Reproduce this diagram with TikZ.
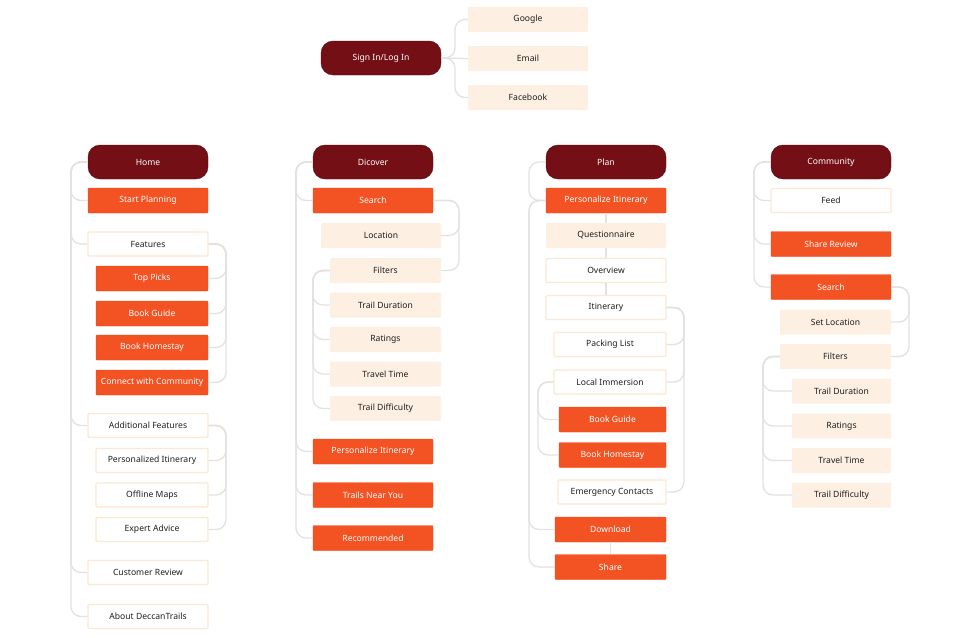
\documentclass[tikz,border=0pt]{standalone}
\usepackage{fontspec}
\setmainfont{Noto Sans}
\definecolor{dred}{HTML}{730F15}
\definecolor{orng}{HTML}{F35223}
\definecolor{peach}{HTML}{FDF0E3}
\definecolor{pborder}{HTML}{FCE8D4}
\definecolor{lline}{HTML}{E2E2E2}
\definecolor{txt}{HTML}{1E1E1E}
\begin{document}
\begin{tikzpicture}[x=1pt,y=-1pt,
  base/.style={minimum height=25pt, inner sep=0pt, font=\fontsize{8.6}{10}\selectfont, rounded corners=1pt},
  head/.style={base, fill=dred, text=white, minimum width=120pt, minimum height=34pt, rounded corners=12pt, draw=dred!80!black, line width=0.4pt},
  obox/.style={base, fill=orng, text=white, draw=orng!85!red, line width=0.4pt},
  pbox/.style={base, fill=peach, text=txt},
  wbox/.style={base, fill=white, draw=pborder, line width=1.3pt, text=txt},
  w120/.style={minimum width=120pt},
  conn/.style={draw=lline, line width=1.3pt, rounded corners=10pt},
]
\fill[white] (0,0) rectangle (979,637);
\useasboundingbox (0,0) rectangle (979,637);

% Sign in
\node[head] (sign) at (381,58) {Sign In/Log In};
\node[pbox,w120] (google) at (528,19.5) {Google};
\node[pbox,w120] (email) at (528,58.5) {Email};
\node[pbox,w120] (fb) at (528,97.5) {Facebook};
\coordinate (sx) at (455,0);
\draw[conn] (sign.east) -- (sx|-sign.east) -- (sx|-google.west) -- (google.west);
\draw[conn] (sign.east) -- (sx|-sign.east) -- (sx|-fb.west) -- (fb.west);
\draw[conn] (sign.east) -- (email.west);

% Home column
\node[head] (home) at (148,162) {Home};
\node[obox,w120] (hsp) at (148,200.5) {Start Planning};
\node[wbox,w120, minimum height=24pt] (hfeat) at (148,244) {Features};
\node[obox,minimum width=112pt] (htp) at (152,278.5) {Top Picks};
\node[obox,minimum width=112pt] (hbg) at (152,313.5) {Book Guide};
\node[obox,minimum width=112pt] (hbh) at (152,347.5) {Book Homestay};
\node[obox,minimum width=112pt] (hcc) at (152,382.5) {Connect with Community};
\node[wbox,w120, minimum height=24pt] (haf) at (148,425.5) {Additional Features};
\node[wbox,minimum width=112pt, minimum height=24pt] (hpi) at (152,460.5) {Personalized Itinerary};
\node[wbox,minimum width=112pt, minimum height=24pt] (hom) at (152,495) {Offline Maps};
\node[wbox,minimum width=112pt, minimum height=24pt] (hea) at (152,529.5) {Expert Advice};
\node[wbox,w120, minimum height=24pt] (hcr) at (148,572.5) {Customer Review};
\node[wbox,w120, minimum height=24pt] (hab) at (148,616.5) {About DeccanTrails};
\coordinate (ht) at (71,0);
\foreach \c in {hsp,hfeat,haf,hcr,hab}
  \draw[conn] (home.west) -- (ht|-home.west) -- (ht|-\c.west) -- (\c.west);
\coordinate (hb) at (226,0);
\foreach \c in {htp,hbg,hbh,hcc}
  \draw[conn] (hfeat.east) -- (hb|-hfeat.east) -- (hb|-\c.east) -- (\c.east);
\foreach \c in {hpi,hom,hea}
  \draw[conn] (haf.east) -- (hb|-haf.east) -- (hb|-\c.east) -- (\c.east);

% Discover column
\node[head] (disc) at (373,162) {Dicover};
\node[obox,w120] (dse) at (373,200.5) {Search};
\node[pbox,w120] (dlo) at (381,235.5) {Location};
\node[pbox,minimum width=111pt] (dfi) at (385.5,270.5) {Filters};
\node[pbox,minimum width=111pt] (dtd) at (385.5,305) {Trail Duration};
\node[pbox,minimum width=111pt] (dra) at (385.5,339.5) {Ratings};
\node[pbox,minimum width=111pt] (dtt) at (385.5,374) {Travel Time};
\node[pbox,minimum width=111pt] (dtf) at (385.5,408.5) {Trail Difficulty};
\node[obox,w120] (dpi) at (373,451.5) {Personalize Itinerary};
\node[obox,w120] (dtn) at (373,495) {Trails Near You};
\node[obox,w120] (dre) at (373,538) {Recommended};
\coordinate (dt) at (296,0);
\foreach \c in {dse,dpi,dtn,dre}
  \draw[conn] (disc.west) -- (dt|-disc.west) -- (dt|-\c.west) -- (\c.west);
\coordinate (db) at (459,0);
\foreach \c in {dlo,dfi}
  \draw[conn] (dse.east) -- (db|-dse.east) -- (db|-\c.east) -- (\c.east);
\coordinate (df) at (313,0);
\foreach \c in {dtd,dra,dtt,dtf}
  \draw[conn] (dfi.west) -- (df|-dfi.west) -- (df|-\c.west) -- (\c.west);

% Plan column
\node[head] (plan) at (606,162) {Plan};
\node[obox,w120] (ppi) at (606,200.5) {Personalize Itinerary};
\node[pbox,w120] (pqu) at (606,235.5) {Questionnaire};
\node[wbox,w120,minimum height=24pt] (pov) at (606,270.5) {Overview};
\node[wbox,w120,minimum height=24pt] (pit) at (606,307.5) {Itinerary};
\node[wbox,minimum width=112pt,minimum height=24pt] (ppl) at (610,344.5) {Packing List};
\node[wbox,minimum width=112pt,minimum height=24pt] (pli) at (610,382) {Local Immersion};
\node[obox,minimum width=107pt] (pbg) at (612.5,419.5) {Book Guide};
\node[obox,minimum width=107pt] (pbh) at (612.5,455) {Book Homestay};
\node[wbox,minimum width=108pt,minimum height=24pt] (pec) at (612,492) {Emergency Contacts};
\node[obox,minimum width=111pt] (pdl) at (610.5,529.5) {Download};
\node[obox,minimum width=111pt] (psh) at (610.5,567) {Share};
\coordinate (pt) at (529,0);
\draw[conn] (plan.west) -- (pt|-plan.west) -- (pt|-ppi.west) -- (ppi.west);
\foreach \c in {pdl,psh}
  \draw[conn] (ppi.west) -- (pt|-ppi.west) -- (pt|-\c.west) -- (\c.west);
\draw[conn] (ppi.south) -- (pqu.north);
\draw[conn] (pqu.south) -- (pov.north);
\draw[conn] (pov.south) -- (pit.north);
\draw[conn] (pdl.south) -- (psh.north);
\coordinate (pb) at (684,0);
\foreach \c in {ppl,pli,pec}
  \draw[conn] (pit.east) -- (pb|-pit.east) -- (pb|-\c.east) -- (\c.east);
\coordinate (pl) at (538,0);
\foreach \c in {pbg,pbh}
  \draw[conn] (pli.west) -- (pl|-pli.west) -- (pl|-\c.west) -- (\c.west);

% Community column
\node[head] (comm) at (831,162) {Community};
\node[wbox,w120,minimum height=24pt] (cfe) at (831,200.5) {Feed};
\node[obox,w120] (csr) at (831,244) {Share Review};
\node[obox,w120] (cse) at (831,287) {Search};
\node[pbox,minimum width=111pt] (csl) at (835.5,322) {Set Location};
\node[pbox,minimum width=111pt] (cfi) at (835.5,356.5) {Filters};
\node[pbox,minimum width=99pt] (ctd) at (841.5,391) {Trail Duration};
\node[pbox,minimum width=99pt] (cra) at (841.5,426) {Ratings};
\node[pbox,minimum width=99pt] (ctt) at (841.5,460.5) {Travel Time};
\node[pbox,minimum width=99pt] (ctf) at (841.5,495) {Trail Difficulty};
\coordinate (ct) at (754,0);
\foreach \c in {cfe,csr,cse}
  \draw[conn] (comm.west) -- (ct|-comm.west) -- (ct|-\c.west) -- (\c.west);
\coordinate (cb) at (909,0);
\foreach \c in {csl,cfi}
  \draw[conn] (cse.east) -- (cb|-cse.east) -- (cb|-\c.east) -- (\c.east);
\coordinate (cf) at (763,0);
\foreach \c in {ctd,cra,ctt,ctf}
  \draw[conn] (cfi.west) -- (cf|-cfi.west) -- (cf|-\c.west) -- (\c.west);
\end{tikzpicture}
\end{document}
